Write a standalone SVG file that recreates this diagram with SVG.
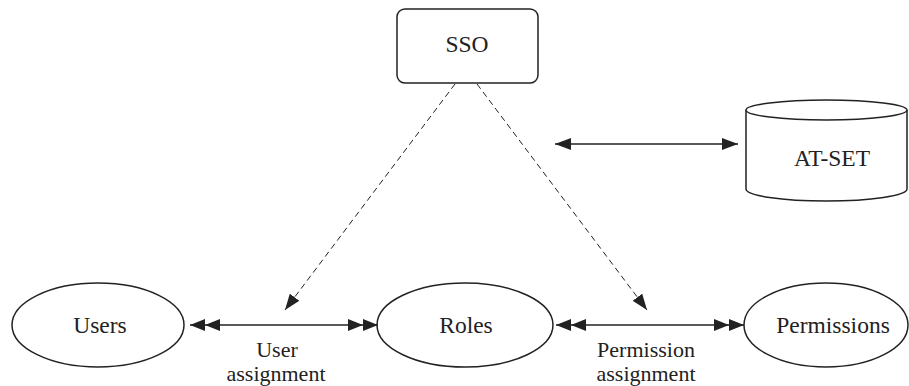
<svg xmlns="http://www.w3.org/2000/svg" width="909" height="386" viewBox="0 0 909 386">
  <style>
    .shape { fill: #fff; stroke: #222; stroke-width: 1.5; }
    .lbl { font-family: "Liberation Serif", "DejaVu Serif", serif; font-size: 23.5px; fill: #222; text-anchor: middle; }
    .sub { font-size: 22px; }
    .solid { stroke: #222; stroke-width: 1.6; fill: none; }
    .dash { stroke: #222; stroke-width: 1; fill: none; stroke-dasharray: 6 4; }
  </style>
  <defs>
    <marker id="dbl" viewBox="0 0 30 12" refX="30" refY="6" markerWidth="30" markerHeight="12" markerUnits="userSpaceOnUse" orient="auto-start-reverse">
      <path d="M0,0 L15,6 L0,12 Z M15,0 L30,6 L15,12 Z" fill="#222"/>
    </marker>
    <marker id="single" viewBox="0 0 16 12" refX="16" refY="6" markerWidth="16" markerHeight="12" markerUnits="userSpaceOnUse" orient="auto-start-reverse">
      <path d="M0,0 L16,6 L0,12 Z" fill="#222"/>
    </marker>
  </defs>

  <g id="sso">
    <rect class="shape" x="397" y="9" width="141" height="74" rx="8" ry="8"/>
    <text class="lbl" x="467" y="52">SSO</text>
  </g>

  <g id="atset">
    <path class="shape" d="M746,110 L746,189 A80.5,12 0 0 0 907,189 L907,110"/>
    <ellipse class="shape" cx="826.5" cy="110" rx="80.5" ry="10"/>
    <text class="lbl" x="832" y="166">AT-SET</text>
  </g>

  <g id="users">
    <ellipse class="shape" cx="98" cy="325" rx="86" ry="42"/>
    <text class="lbl" x="100" y="333">Users</text>
  </g>

  <g id="roles">
    <ellipse class="shape" cx="465" cy="325" rx="88" ry="42"/>
    <text class="lbl" x="466" y="333">Roles</text>
  </g>

  <g id="permissions">
    <ellipse class="shape" cx="826" cy="325" rx="82" ry="42"/>
    <text class="lbl" x="833" y="333">Permissions</text>
  </g>

  <g id="connectors">
    <line class="solid" x1="190" y1="325" x2="378" y2="325" marker-start="url(#dbl)" marker-end="url(#dbl)"/>
    <line class="solid" x1="556" y1="325" x2="744" y2="325" marker-start="url(#dbl)" marker-end="url(#dbl)"/>
    <line class="solid" x1="555" y1="144" x2="738" y2="144" marker-start="url(#single)" marker-end="url(#single)"/>
    <line class="dash" x1="455" y1="84" x2="285" y2="310" marker-end="url(#single)"/>
    <line class="dash" x1="477" y1="84" x2="647" y2="310" marker-end="url(#single)"/>
  </g>

  <g id="labels">
    <text class="lbl sub"><tspan x="277" y="357">User</tspan><tspan x="276" y="381">assignment</tspan></text>
    <text class="lbl sub"><tspan x="646" y="357">Permission</tspan><tspan x="646" y="381">assignment</tspan></text>
  </g>
</svg>
